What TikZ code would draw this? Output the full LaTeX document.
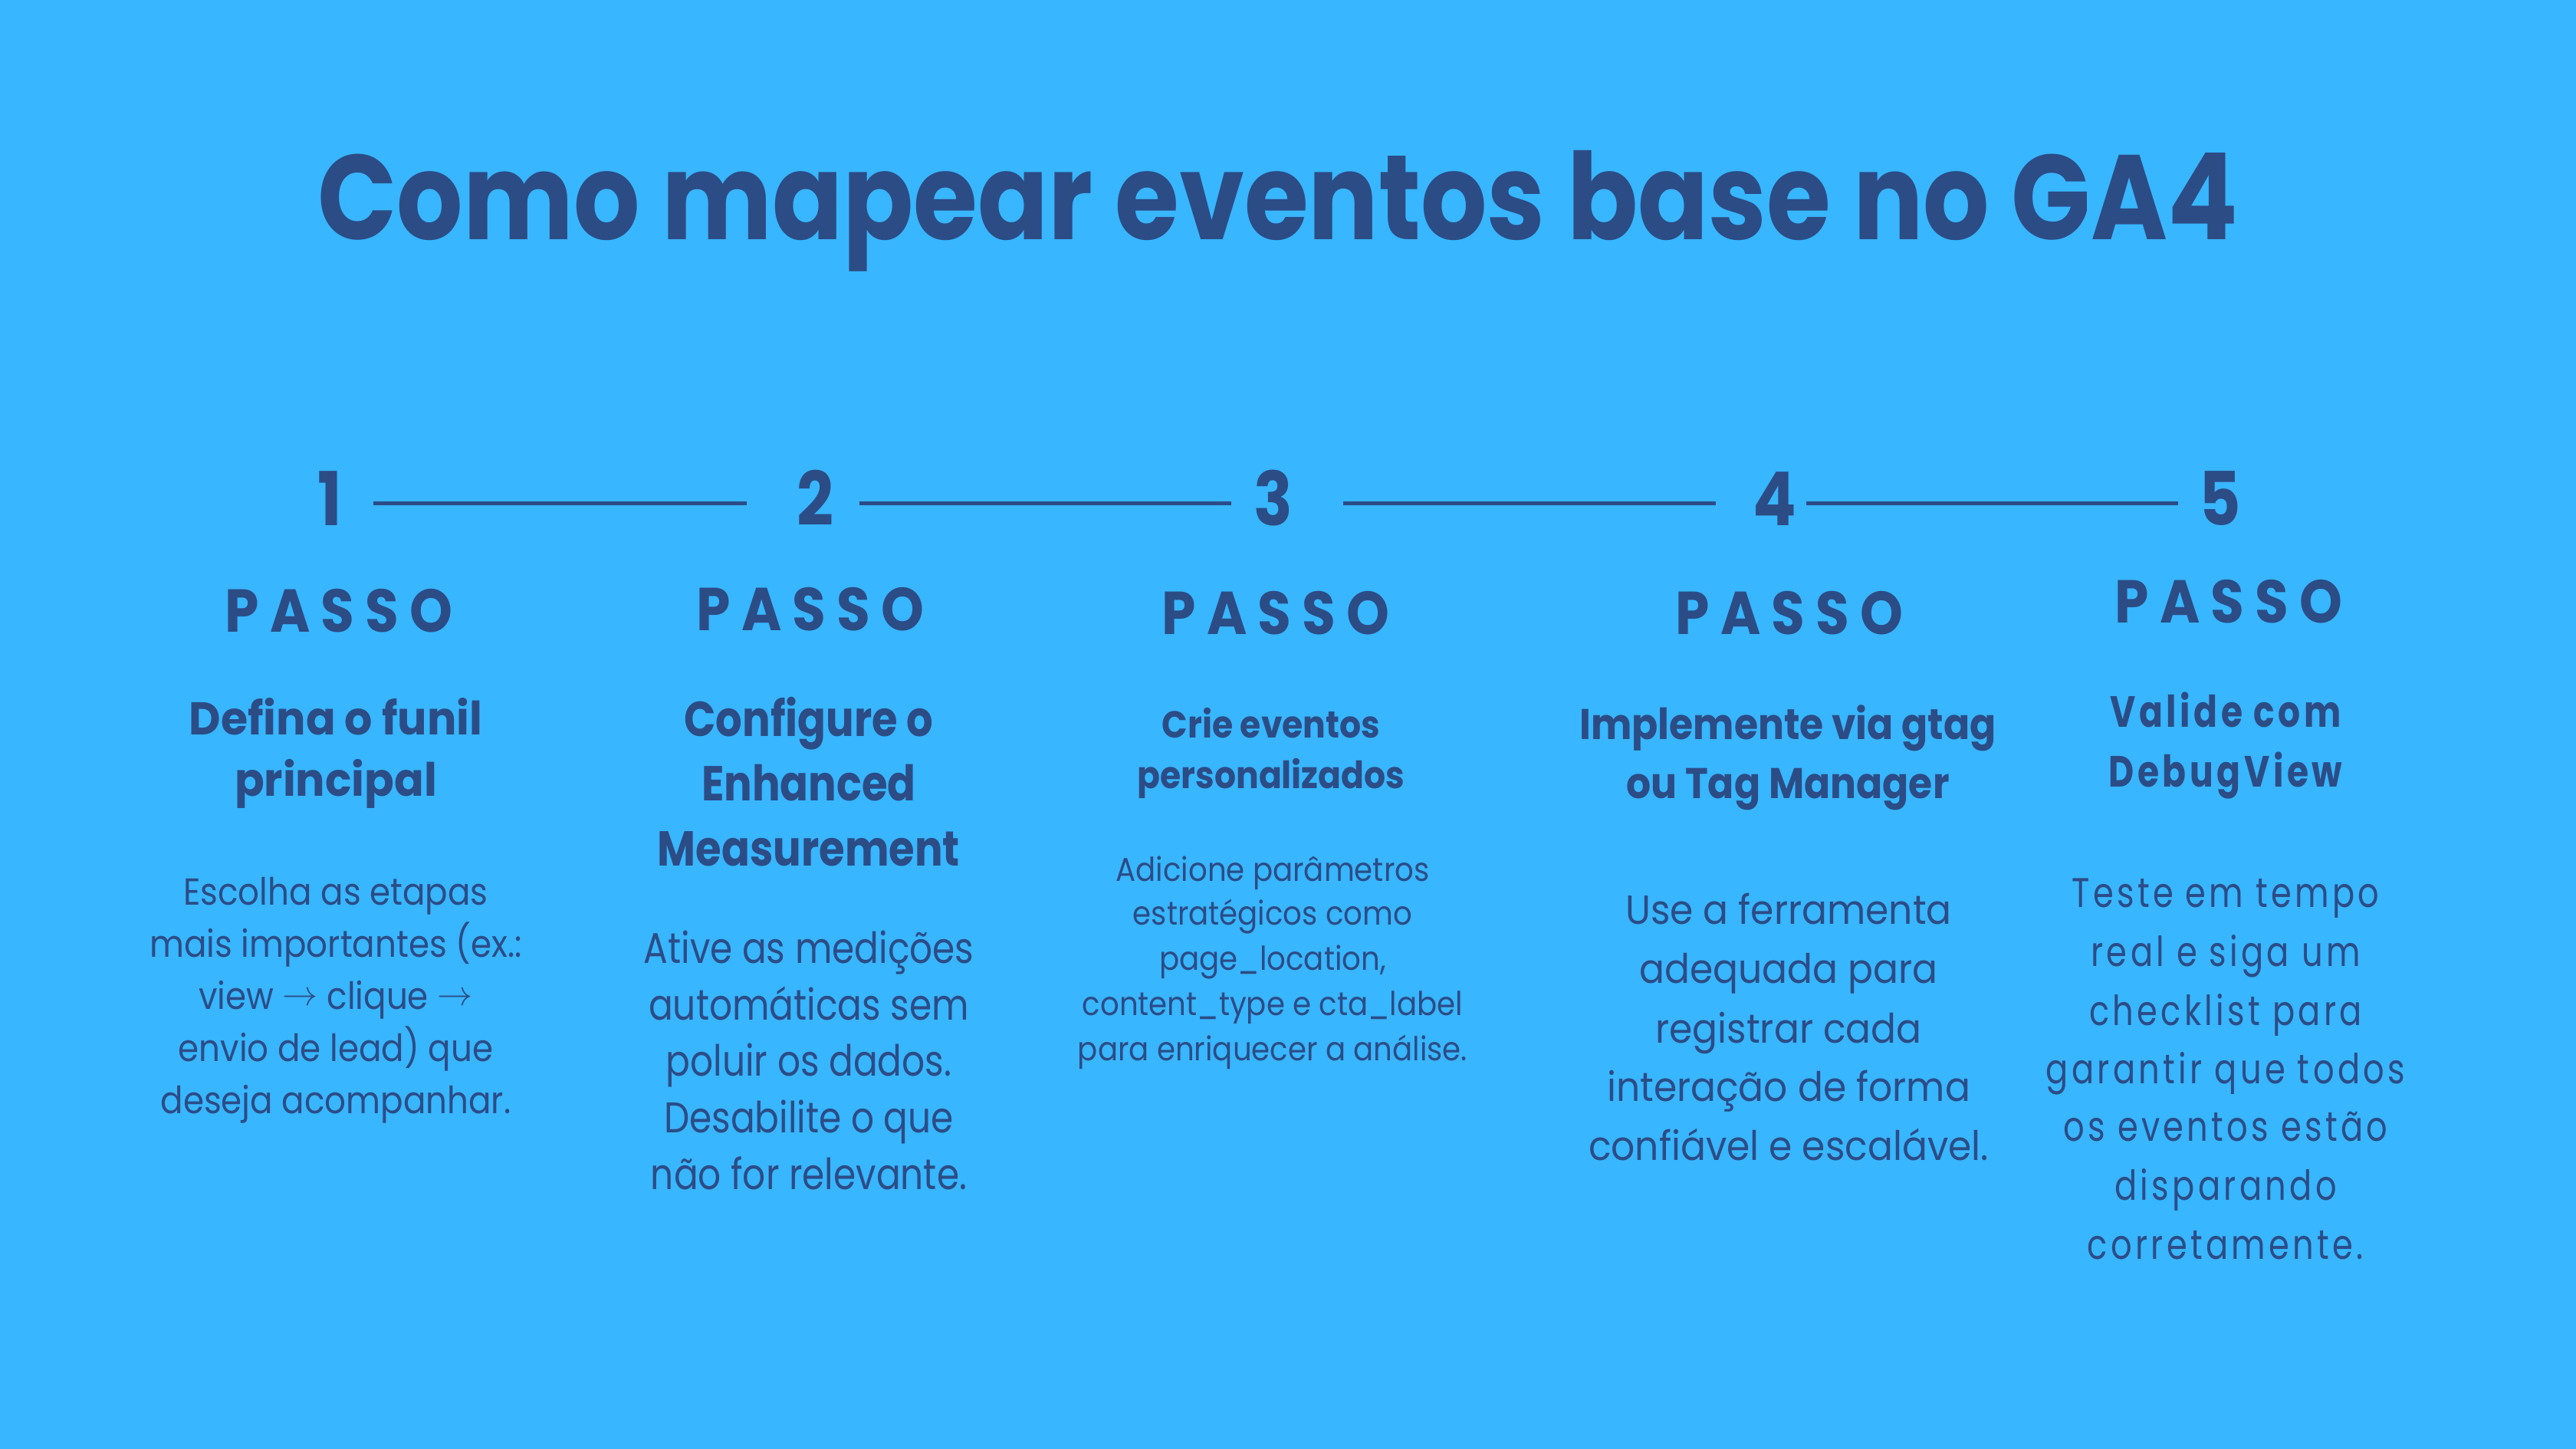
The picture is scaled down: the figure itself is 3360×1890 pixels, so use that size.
\documentclass[tikz,border=0pt]{standalone}
\usepackage{graphicx}
\usepackage{fontspec}
\setmainfont{Poppins}
\newfontfamily\popT[FakeStretch=0.865]{Poppins}
\newfontfamily\hA[FakeStretch=0.95]{Poppins}
\newfontfamily\hB[FakeStretch=0.85]{Poppins}
\newfontfamily\hC[FakeStretch=0.9]{Poppins}
\newfontfamily\hD[FakeStretch=0.9]{Poppins}
\newfontfamily\bA[FakeStretch=0.89]{Poppins}
\newfontfamily\bB[FakeStretch=0.84]{Poppins}
\newfontfamily\bC[FakeStretch=0.90]{Poppins}
\newfontfamily\bD[FakeStretch=0.92]{Poppins}
\newfontfamily\popS[LetterSpace=18,FakeStretch=0.9]{Poppins}
\newfontfamily\popV[LetterSpace=8,FakeStretch=0.8]{Poppins}
\definecolor{bgc}{HTML}{38B6FF}
\definecolor{inkc}{HTML}{2C4C85}
\newcommand\fs[1]{\fontsize{#1pt}{#1pt}\selectfont}
\newcommand\arr{\raisebox{5pt}{\resizebox{46pt}{!}{$\rightarrow$}}}
\begin{document}
\begin{tikzpicture}[x=1pt,y=-1pt,
  txt/.style={anchor=base,inner sep=0pt,text=inkc},
  titlestyle/.style={txt,font=\popT\bfseries\fs{157}},
  numstyle/.style={txt,font=\popT\bfseries\fs{97}},
  passostyle/.style={txt,font=\popS\bfseries\fs{79}},
  conn/.style={draw=inkc,line width=5pt}]
\fill[bgc] (0,0) rectangle (3360,1890);
\useasboundingbox (0,0) rectangle (3360,1890);

\node[titlestyle] (title) at (1667,312) {Como mapear eventos base no GA4};

% numbers
\node[numstyle] (n1) at (430,685) {1};
\node[numstyle] (n2) at (1063,685) {2};
\node[numstyle] (n3) at (1661,685) {3};
\node[numstyle] (n4) at (2315,685) {4};
\node[numstyle] (n5) at (2896,685) {5};

\draw[conn,shorten <=57pt,shorten >=89pt] ([yshift=29pt]n1.base) -- ([yshift=29pt]n2.base);
\draw[conn,shorten <=58pt,shorten >=55pt] ([yshift=29pt]n2.base) -- ([yshift=29pt]n3.base);
\draw[conn,shorten <=91pt,shorten >=77pt] ([yshift=29pt]n3.base) -- ([yshift=29pt]n4.base);
\draw[conn,shorten <=41pt,shorten >=55pt] ([yshift=29pt]n4.base) -- ([yshift=29pt]n5.base);

% PASSO labels
\node[passostyle] (p1) at (442,824) {PASSO};
\node[passostyle] (p2) at (1057,822) {PASSO};
\node[passostyle] (p3) at (1664,827) {PASSO};
\node[passostyle] (p4) at (2334,827) {PASSO};
\node[passostyle] (p5) at (2907,812) {PASSO};

% column 1
\begin{scope}[every node/.style={txt,font=\hA\bfseries\fs{60}}]
\node (h1a) at (438,958) {Defina o funil};
\node (h1b) at (438,1038) {principal};
\end{scope}
\begin{scope}[every node/.style={txt,font=\bA\fs{49}}]
\node (b1a) at (438,1180) {Escolha as etapas};
\node (b1b) at (438,1248) {mais importantes (ex.:};
\node (b1c) at (438,1316) {view \arr{} clique \arr};
\node (b1d) at (438,1384) {envio de lead) que};
\node (b1e) at (438,1452) {deseja acompanhar.};
\end{scope}

% column 2
\begin{scope}[every node/.style={txt,font=\hB\bfseries\fs{64}}]
\node (h2a) at (1055,960) {Configure o};
\node (h2b) at (1055,1044) {Enhanced};
\node (h2c) at (1055,1129) {Measurement};
\end{scope}
\begin{scope}[every node/.style={txt,font=\bB\fs{56}}]
\node (b2a) at (1055,1256) {Ative as medições};
\node (b2b) at (1055,1330) {automáticas sem};
\node (b2c) at (1055,1403) {poluir os dados.};
\node (b2d) at (1055,1477) {Desabilite o que};
\node (b2e) at (1055,1551) {não for relevante.};
\end{scope}

% column 3
\begin{scope}[every node/.style={txt,font=\hC\bfseries\fs{49}}]
\node (h3a) at (1658,962) {Crie eventos};
\node (h3b) at (1658,1028) {personalizados};
\end{scope}
\begin{scope}[every node/.style={txt,font=\bC\fs{43}}]
\node (b3a) at (1660,1149) {Adicione parâmetros};
\node (b3b) at (1660,1206) {estratégicos como};
\node (b3c) at (1660,1265) {page\_location,};
\node (b3d) at (1660,1324) {content\_type e cta\_label};
\node (b3e) at (1660,1383) {para enriquecer a análise.};
\end{scope}

% column 4
\begin{scope}[every node/.style={txt,font=\hD\bfseries\fs{56}}]
\node (h4a) at (2332,964) {Implemente via gtag};
\node (h4b) at (2332,1041) {ou Tag Manager};
\end{scope}
\begin{scope}[every node/.style={txt,font=\bD\fs{53}}]
\node (b4a) at (2333,1205) {Use a ferramenta};
\node (b4b) at (2333,1282) {adequada para};
\node (b4c) at (2333,1360) {registrar cada};
\node (b4d) at (2333,1436) {interação de forma};
\node (b4e) at (2333,1513) {confiável e escalável.};
\end{scope}

% column 5
\begin{scope}[every node/.style={txt,font=\popV\bfseries\fs{57}}]
\node (h5a) at (2903,948) {Valide com};
\node (h5b) at (2903,1026) {DebugView};
\end{scope}
\begin{scope}[every node/.style={txt,font=\popV\fs{54}}]
\node (b5a) at (2903,1183) {Teste em tempo};
\node (b5b) at (2903,1260) {real e siga um};
\node (b5c) at (2903,1337) {checklist para};
\node (b5d) at (2903,1413) {garantir que todos};
\node (b5e) at (2903,1488) {os eventos estão};
\node (b5f) at (2903,1565) {disparando};
\node (b5g) at (2903,1642) {corretamente.};
\end{scope}
\end{tikzpicture}
\end{document}
